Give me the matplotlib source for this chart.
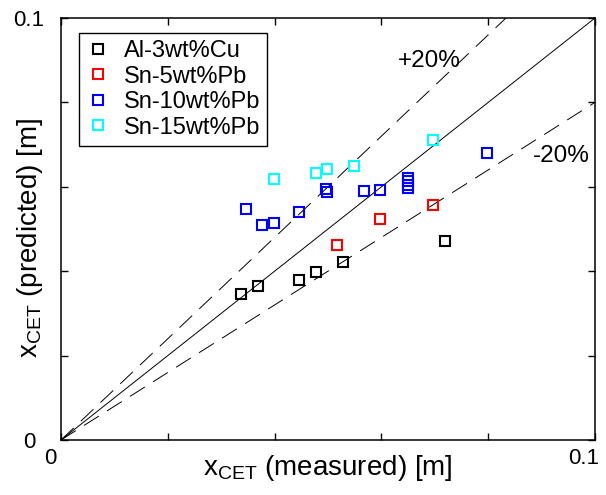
import numpy as np
import matplotlib
matplotlib.use("Agg")
from matplotlib import pyplot as plt
from matplotlib.transforms import ScaledTranslation

plt.rcParams['font.family'] = ['Liberation Sans', 'DejaVu Sans']
plt.rcParams['mathtext.fontset'] = 'custom'
plt.rcParams['mathtext.rm'] = 'Liberation Sans'
plt.rcParams['mathtext.it'] = 'Liberation Sans'

# measured / predicted CET position [m]
al3cu_meas = [0.0338, 0.0368, 0.0446, 0.0478, 0.0528, 0.0719]
al3cu_pred = [0.0345, 0.0366, 0.0378, 0.0399, 0.0422, 0.0472]

sn5pb_meas = [0.0516, 0.0597, 0.0697]
sn5pb_pred = [0.0463, 0.0523, 0.0558]

sn10pb_meas = [0.0346, 0.0376, 0.0398, 0.0446, 0.0496, 0.0499, 0.0567, 0.0597,
               0.0649, 0.0649, 0.0649, 0.0649, 0.0797]
sn10pb_pred = [0.0547, 0.0510, 0.0515, 0.0540, 0.0595, 0.0588, 0.0589, 0.0593,
               0.0620, 0.0613, 0.0605, 0.0598, 0.0679]

sn15pb_meas = [0.0398, 0.0478, 0.0498, 0.0549, 0.0697]
sn15pb_pred = [0.0618, 0.0633, 0.0642, 0.0649, 0.0711]

series = [
    ('Al-3wt%Cu', al3cu_meas, al3cu_pred, '#000000'),
    ('Sn-5wt%Pb', sn5pb_meas, sn5pb_pred, '#ff0000'),
    ('Sn-10wt%Pb', sn10pb_meas, sn10pb_pred, '#0000ff'),
    ('Sn-15wt%Pb', sn15pb_meas, sn15pb_pred, '#00ffff'),
]

fig = plt.figure(figsize=(6.06, 4.95), dpi=100)
ax = fig.add_axes([61/606, 1-440/495, 534/606, 422/495])

xx = np.array([0.0, 0.1])
ax.plot(xx, xx, color='k', lw=0.7)
ax.plot(xx, 1.2*xx, color='k', lw=0.7, dashes=(18, 10))
ax.plot(xx, 0.8*xx, color='k', lw=0.7, dashes=(18, 10))

for name, xm, yp, c in series:
    ax.plot(xm, yp, ls='none', marker='s', ms=7.5, mfc='none', mec=c,
            mew=1.5, label=name)

ax.text(0.0631, 0.0897, '+20%', fontsize=17.5, va='center', ha='left')
ax.text(0.0884, 0.0673, '-20%', fontsize=17.5, va='center', ha='left')

ax.set_xlim(0, 0.1)
ax.set_ylim(0, 0.1)
ticks = np.linspace(0, 0.1, 6)
labels = ['0', '', '', '', '', '0.1']
ax.set_xticks(ticks)
ax.set_xticklabels(labels)
ax.set_yticks(ticks)
ax.set_yticklabels(labels)
ax.tick_params(direction='in', length=5, width=1, top=True, right=True,
               labelsize=16)
ax.tick_params(axis='x', pad=6)
ax.tick_params(axis='y', pad=23)
shift = ScaledTranslation(-11/100, 0, fig.dpi_scale_trans)
for lab in ax.get_xticklabels():
    lab.set_transform(lab.get_transform() + shift)
for lab in ax.get_yticklabels():
    lab.set_horizontalalignment('center')
for s in ax.spines.values():
    s.set_linewidth(1.1)

ax.set_xlabel(r'$\mathregular{x_{CET}}$ (measured) [m]', fontsize=20)
ax.set_ylabel(r'$\mathregular{x_{CET}}$ (predicted) [m]', fontsize=20)
ax.xaxis.set_label_coords(0.5, -0.03)
ax.yaxis.set_label_coords(-0.03, 0.48)

leg = ax.legend(loc='upper left', bbox_to_anchor=(18/534, 1-15/422),
                borderaxespad=0, fontsize=17, numpoints=1, fancybox=False,
                handlelength=1.0, handletextpad=0.6, labelspacing=0.15,
                borderpad=0.3)
leg.get_frame().set_edgecolor('k')
leg.get_frame().set_linewidth(1.0)
leg.get_frame().set_alpha(1)

fig.savefig('out.png', dpi=100)
